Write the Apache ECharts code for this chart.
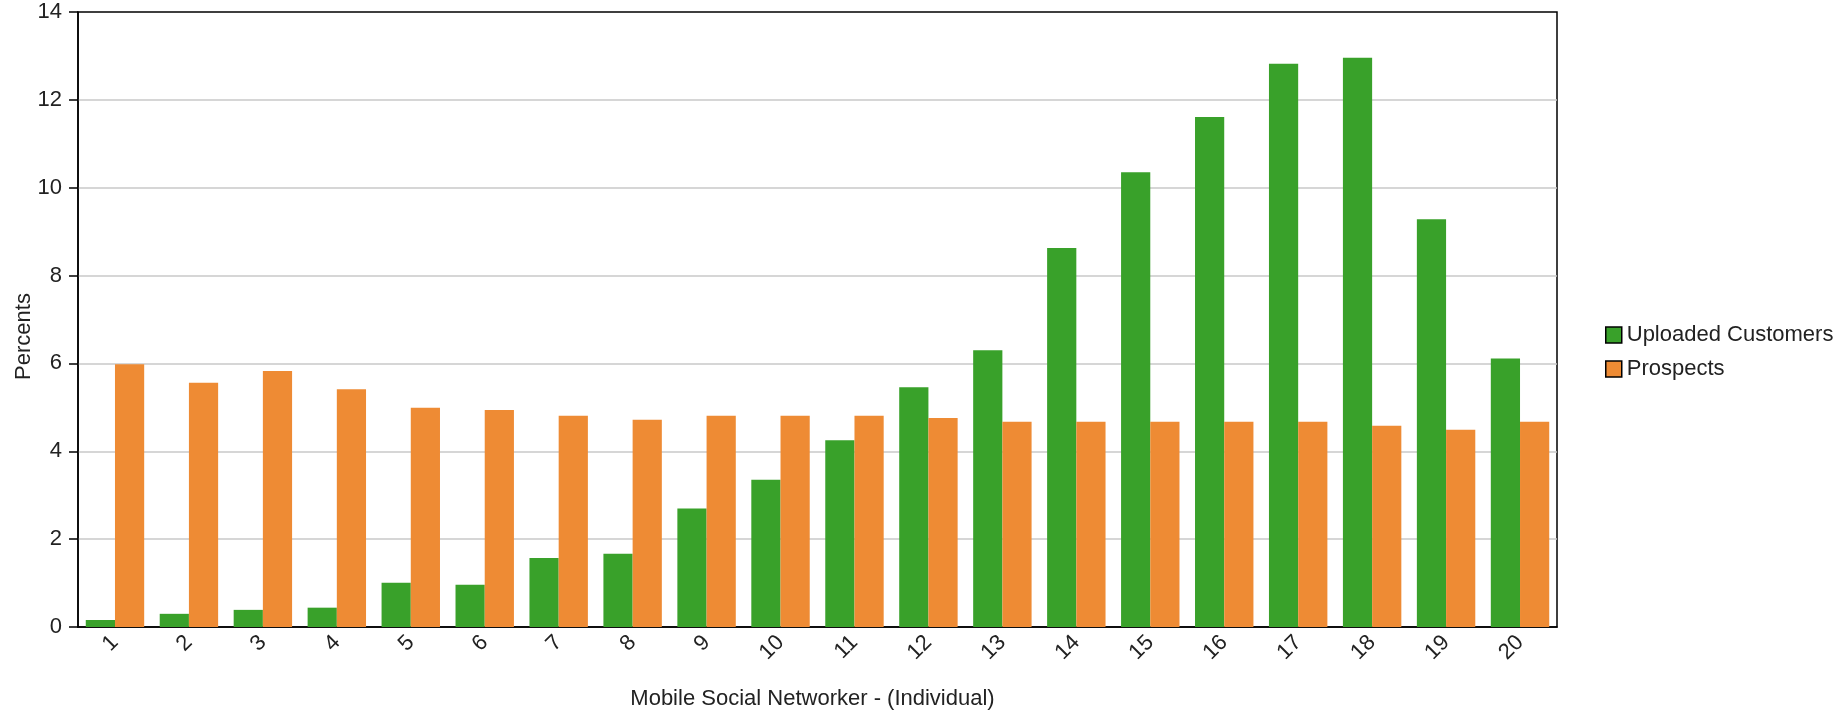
<!DOCTYPE html>
<html>
<head>
<meta charset="utf-8">
<script src="https://cdn.jsdelivr.net/npm/echarts@6/dist/echarts.min.js"></script>
<style>
html,body{margin:0;padding:0;background:#fff;}
#chart{width:1842px;height:715px;}
</style>
</head>
<body>
<div id="chart"></div>
<script>
var categories = ['1','2','3','4','5','6','7','8','9','10','11','12','13','14','15','16','17','18','19','20'];
var uploadedCustomers = [0.16, 0.30, 0.39, 0.44, 1.01, 0.96, 1.57, 1.67, 2.70, 3.35, 4.25, 5.46, 6.30, 8.63, 10.35, 11.61, 12.82, 12.96, 9.28, 6.11];
var prospects = [5.98, 5.56, 5.83, 5.41, 4.99, 4.94, 4.81, 4.72, 4.81, 4.81, 4.81, 4.76, 4.67, 4.67, 4.67, 4.67, 4.67, 4.58, 4.49, 4.67];
var seriesNames = ['Uploaded Customers', 'Prospects'];
var yTicks = {min: 0, max: 14, interval: 2};

var font = '"Liberation Sans", Arial, sans-serif';
var chart = echarts.init(document.getElementById('chart'), null, {renderer: 'canvas'});
chart.setOption({
  animation: false,
  backgroundColor: '#ffffff',
  textStyle: {fontFamily: font},
  grid: {left: 78, right: 285, top: 12, height: 615, show: true, borderColor: '#000', borderWidth: 1.5, backgroundColor: 'transparent'},
  legend: {
    orient: 'vertical', left: 1600, top: 319,
    itemWidth: 16, itemHeight: 16, itemGap: 12,
    icon: 'rect',
    itemStyle: {borderColor: '#000', borderWidth: 1.5},
    textStyle: {fontSize: 22, color: '#222', fontFamily: font},
    data: seriesNames
  },
  xAxis: {
    type: 'category', data: categories,
    name: 'Mobile Social Networker - (Individual)', nameLocation: 'middle', nameGap: 61,
    nameMoveOverlap: false,
    nameTextStyle: {fontSize: 22, color: '#222', fontFamily: font, padding: [0, 10, 0, 0]},
    axisLine: {lineStyle: {color: '#000', width: 1.5}},
    axisTick: {alignWithLabel: true, length: 9, lineStyle: {color: '#000', width: 1.5}},
    axisLabel: {rotate: 45, margin: 12, fontSize: 22, color: '#222', fontFamily: font},
    splitLine: {show: false}
  },
  yAxis: {
    type: 'value', min: yTicks.min, max: yTicks.max, interval: yTicks.interval,
    name: 'Percents', nameLocation: 'middle', nameGap: 43,
    nameMoveOverlap: false,
    nameTextStyle: {fontSize: 22, color: '#222', fontFamily: font, padding: [0, 34, 0, 0]},
    axisLine: {show: true, lineStyle: {color: '#000', width: 1.5}},
    axisTick: {show: true, length: 9, lineStyle: {color: '#000', width: 1.5}},
    axisLabel: {margin: 16, fontSize: 22, color: '#222', fontFamily: font},
    splitLine: {show: true, showMinLine: false, showMaxLine: false, lineStyle: {color: '#c8c8c8', width: 1.5}}
  },
  series: [
    {name: seriesNames[0], type: 'bar', data: uploadedCustomers, barGap: '0%', barCategoryGap: '21%',
     itemStyle: {color: '#39a12a'}},
    {name: seriesNames[1], type: 'bar', data: prospects, barGap: '0%', barCategoryGap: '21%',
     itemStyle: {color: '#ee8b34'}}
  ]
});
</script>
</body>
</html>
